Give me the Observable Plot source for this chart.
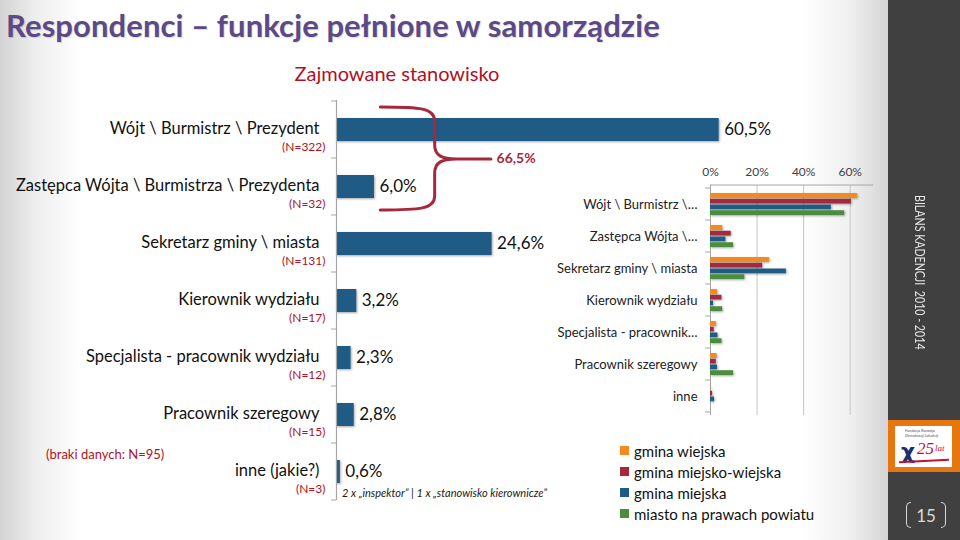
<!DOCTYPE html>
<html>
<head>
<meta charset="utf-8">
<script src="https://cdn.jsdelivr.net/npm/d3@7"></script>
<script src="https://cdn.jsdelivr.net/npm/@observablehq/plot@0.6"></script>
<style>
  body { margin: 0; background: #fff; }
  #slide { position: relative; width: 960px; height: 540px; overflow: hidden; font-family: Lato, "Open Sans", sans-serif;
    background: linear-gradient(to right, #d2d2d2 0px, #eeeeee 35px, #ffffff 80px, #ffffff 800px, #f0f0f0 850px, #d4d4d4 888px); }
  #title { position: absolute; left: 6px; top: 6px; font-size: 31px; font-weight: 700; color: #5c4a86; letter-spacing: 0.1px; white-space: nowrap; text-shadow: 1px 1px 1px rgba(0,0,0,0.15); }
  #subtitle { position: absolute; left: 0; width: 794px; text-align: center; top: 61px; font-size: 20px; color: #b0111f; white-space: nowrap; }
  .abs { position: absolute; white-space: nowrap; }
  #braki { left: 46px; top: 446px; font-size: 13px; color: #b0111f; }
  #note { left: 342px; top: 486px; font-size: 11px; font-style: italic; color: #1a1a1a; }
  #main, #inset { position: absolute; }
  #main { left: 0; top: 0; }
  #inset { left: 540px; top: 150px; }
  #main svg rect, #inset svg rect { filter: drop-shadow(1.5px 1.5px 1.2px rgba(0,0,0,0.35)); }
  #legend { position: absolute; left: 620px; top: 440px; font-size: 15px; color: #111; }
  #legend .item { display: flex; align-items: center; height: 21px; }
  #legend .sw { width: 9px; height: 9px; margin-right: 5px; }
  #sidebar { position: absolute; left: 888px; top: 0; width: 72px; height: 540px; background: #404040; }
  #sideText { position: absolute; left: 24px; top: 195px; writing-mode: vertical-rl; font-size: 14px; color: #e6e6e6; white-space: nowrap; transform: scaleY(0.76); transform-origin: top left; }
  #orange { position: absolute; left: 0; top: 420px; width: 72px; height: 52px; background: #e8760f; }
  #logo { position: absolute; left: 7px; top: 6px; width: 57px; height: 41px; background: #fff; overflow: hidden; }
  #logo .t { position: absolute; left: 10px; top: 3px; font-size: 4px; line-height: 4.5px; color: #555; font-style: italic; }
  #logo .fig { position: absolute; left: 6px; top: 13px; font-size: 22px; font-weight: 900; color: #1d2f6b; font-family: "DejaVu Sans", sans-serif; }
  #logo .n { position: absolute; left: 22px; top: 13px; font-size: 17px; font-style: italic; color: #c8102e; font-family: "Liberation Serif", serif; }
  #logo .l { position: absolute; left: 40px; top: 17px; font-size: 9px; font-style: italic; color: #c8102e; font-family: "Liberation Serif", serif; }
  #logo .sw { position: absolute; left: 4px; top: 34px; width: 50px; height: 2px; background: #c8102e; transform: rotate(-3deg); }
  #page { position: absolute; left: 18px; top: 502px; width: 40px; height: 26px; display: flex; align-items: center; justify-content: center; color: #d9d9d9; font-size: 17px; }
  #page .lb, #page .rb { width: 4px; height: 24px; border: 1.5px solid #d9d9d9; }
  #page .lb { border-right: none; border-radius: 5px 0 0 5px; margin-right: 5px; }
  #page .rb { border-left: none; border-radius: 0 5px 5px 0; margin-left: 5px; }
</style>
</head>
<body>
<div id="slide">
  <div id="title">Respondenci – funkcje pełnione w samorządzie</div>
  <div id="subtitle">Zajmowane stanowisko</div>
  <div id="main"></div>
  <div id="inset"></div>
  <div id="braki" class="abs">(braki danych: N=95)</div>
  <div id="note" class="abs">2 x „inspektor” | 1 x „stanowisko kierownicze”</div>
  <div id="legend"></div>
  <div id="sidebar">
    <div id="sideText">BILANS KADENCJI&nbsp; 2010 - 2014</div>
    <div id="orange"><div id="logo">
      <div class="t">Fundacja Rozwoju<br>Demokracji Lokalnej</div>
      <div class="fig">χ</div><div class="n">25</div><div class="l">lat</div><div class="sw"></div>
    </div></div>
    <div id="page"><span class="lb"></span><span>15</span><span class="rb"></span></div>
  </div>
</div>
<script>
// ---------- data ----------
const positions = [
  "Wójt \\ Burmistrz \\ Prezydent",
  "Zastępca Wójta \\ Burmistrza \\ Prezydenta",
  "Sekretarz gminy \\ miasta",
  "Kierownik wydziału",
  "Specjalista - pracownik wydziału",
  "Pracownik szeregowy",
  "inne (jakie?)"
];
const nLabels = ["(N=322)", "(N=32)", "(N=131)", "(N=17)", "(N=12)", "(N=15)", "(N=3)"];
const shares = [60.5, 6.0, 24.6, 3.2, 2.3, 2.8, 0.6];
const braceLabel = "66,5%";

const insetCategories = [
  "Wójt \\ Burmistrz \\…",
  "Zastępca Wójta \\…",
  "Sekretarz gminy \\ miasta",
  "Kierownik wydziału",
  "Specjalista - pracownik…",
  "Pracownik szeregowy",
  "inne"
];
const seriesNames = ["gmina wiejska", "gmina miejsko-wiejska", "gmina miejska", "miasto na prawach powiatu"];
const seriesColors = ["#f28a1e", "#a5283b", "#1f5b85", "#4c8c3f"];
const gminaWiejska       = [63.1, 5.2, 25.3, 3.0, 2.5, 2.8, 0.2];
const gminaMiejskoWiejska = [60.5, 8.9, 22.4, 4.9, 1.6, 2.5, 0.9];
const gminaMiejska       = [51.9, 6.6, 32.6, 1.3, 3.2, 3.0, 1.7];
const miastoNaPrawach    = [57.6, 9.9, 14.7, 5.2, 4.9, 9.9, 0.0];
const insetTicks = [0, 20, 40, 60];

// ---------- helpers ----------
const fmt = v => v.toFixed(1).replace(".", ",") + "%";
const NS = "http://www.w3.org/2000/svg";

function boundaryTicks(cats, len, stroke) {
  return (index, scales) => {
    const {x, y} = scales;
    const step = y(cats[1]) - y(cats[0]);
    const bw = y.bandwidth ? y.bandwidth() : step * 0.5;
    const gap = (step - bw) / 2;
    const x0 = x(0);
    const g = document.createElementNS(NS, "g");
    const ys = cats.map(c => y(c) - gap);
    ys.push(y(cats[cats.length - 1]) + bw + gap);
    for (const yy of ys) {
      const l = document.createElementNS(NS, "line");
      l.setAttribute("x1", x0 - len); l.setAttribute("x2", x0);
      l.setAttribute("y1", yy); l.setAttribute("y2", yy);
      l.setAttribute("stroke", stroke);
      g.appendChild(l);
    }
    return g;
  };
}

// ---------- main chart ----------
const rows = positions.map((p, i) => ({position: p, n: nLabels[i], share: shares[i]}));

const brace = (index, scales) => {
  const {x, y} = scales;
  const step = y(positions[1]) - y(positions[0]);
  const bw = y.bandwidth();
  const top = y(positions[0]) - 11;
  const bot = y(positions[1]) + bw + 12;
  const mid = y(positions[0]) + bw + (step - bw) / 2 + 1;
  const xa = x(7), xb = x(15.6), xc = x(19), xd = x(24.5);
  const d = `M${xa},${top} C${xa + 40},${top} ${xb},${top + 1} ${xb},${top + 14} L${xb},${mid - 14}
             C${xb},${mid - 3} ${xb + 8},${mid} ${xc},${mid} L${xd},${mid}
             M${xd},${mid} L${xc},${mid} C${xb + 8},${mid} ${xb},${mid + 3} ${xb},${mid + 14}
             L${xb},${bot - 14} C${xb},${bot - 1} ${xa + 40},${bot} ${xa},${bot}`;
  const p = document.createElementNS(NS, "path");
  p.setAttribute("d", d);
  p.setAttribute("fill", "none");
  p.setAttribute("stroke", "#a5283b");
  p.setAttribute("stroke-width", 3);
  p.setAttribute("stroke-linecap", "round");
  return p;
};

const mainPlot = Plot.plot({
  width: 880, height: 540,
  marginLeft: 336, marginRight: 38, marginTop: 100, marginBottom: 40,
  x: {domain: [0, 80], axis: null},
  y: {domain: positions, paddingInner: 0.6, paddingOuter: 0.3, axis: null},
  style: {background: "transparent", fontFamily: "Lato, sans-serif", color: "#111"},
  marks: [
    Plot.barX(rows, {x: "share", y: "position", fill: "#1f5b85"}),
    Plot.ruleX([0], {stroke: "#a6a6a6", strokeWidth: 1.2}),
    boundaryTicks(positions, 5, "#a6a6a6"),
    brace,
    Plot.text([braceLabel], {x: 25.3, y: [positions[0]], text: d => d, dy: 29, textAnchor: "start", fontSize: 14, fontWeight: "bold", fill: "#a5283b"}),
    Plot.text(rows, {x: "share", y: "position", text: d => fmt(d.share), dx: 5, textAnchor: "start", fontSize: 17, fill: "#111"}),
    Plot.text(rows, {x: 0, y: "position", text: "position", dx: -17, dy: -1, textAnchor: "end", fontSize: 16.5, fill: "#111"}),
    Plot.text(rows, {x: 0, y: "position", text: "n", dx: -11, dy: 17, textAnchor: "end", fontSize: 12, fill: "#b0111f"})
  ]
});
document.getElementById("main").appendChild(mainPlot);

// ---------- inset chart ----------
const seriesValues = [gminaWiejska, gminaMiejskoWiejska, gminaMiejska, miastoNaPrawach];
const insetH = 270, insetTop = 35, insetBottom = 5;
const bandwidth = (insetH - insetTop - insetBottom) / insetCategories.length * 0.7;
const sub = bandwidth / seriesNames.length;

const barMarks = seriesNames.map((s, i) =>
  Plot.barX(insetCategories.map((c, j) => ({cat: c, v: seriesValues[i][j]})), {
    x: "v", y: "cat", fill: seriesColors[i],
    insetTop: i * sub, insetBottom: (seriesNames.length - 1 - i) * sub
  })
);

const insetFrame = (index, scales, values, dims) => {
  const {x} = scales;
  const l = document.createElementNS(NS, "line");
  l.setAttribute("x1", x(0)); l.setAttribute("x2", dims.width - dims.marginRight);
  l.setAttribute("y1", dims.marginTop); l.setAttribute("y2", dims.marginTop);
  l.setAttribute("stroke", "#a6a6a6");
  return l;
};

const insetPlot = Plot.plot({
  width: 340, height: insetH,
  marginLeft: 170, marginRight: 7, marginTop: insetTop, marginBottom: insetBottom,
  x: {domain: [0, 70], axis: null},
  y: {domain: insetCategories, paddingInner: 0.3, paddingOuter: 0.15, axis: null},
  style: {background: "transparent", fontFamily: "Lato, sans-serif", color: "#222"},
  marks: [
    Plot.ruleX(insetTicks.slice(1), {stroke: "#c4c4c4"}),
    Plot.ruleX([0], {stroke: "#a6a6a6"}),
    insetFrame,
    boundaryTicks(insetCategories, 5, "#a6a6a6"),
    ...barMarks,
    Plot.text(insetTicks, {x: d => d, text: d => d + "%", frameAnchor: "top", dy: -18, fontSize: 12, fill: "#404040"}),
    Plot.text(insetCategories, {x: 0, y: d => d, text: d => d, dx: -13, textAnchor: "end", fontSize: 13, fill: "#222"})
  ]
});
document.getElementById("inset").appendChild(insetPlot);

// ---------- legend ----------
const legend = document.getElementById("legend");
seriesNames.forEach((s, i) => {
  const item = document.createElement("div");
  item.className = "item";
  const sw = document.createElement("span");
  sw.className = "sw"; sw.style.background = seriesColors[i];
  const t = document.createElement("span");
  t.textContent = s;
  item.appendChild(sw); item.appendChild(t);
  legend.appendChild(item);
});
</script>
</body>
</html>
